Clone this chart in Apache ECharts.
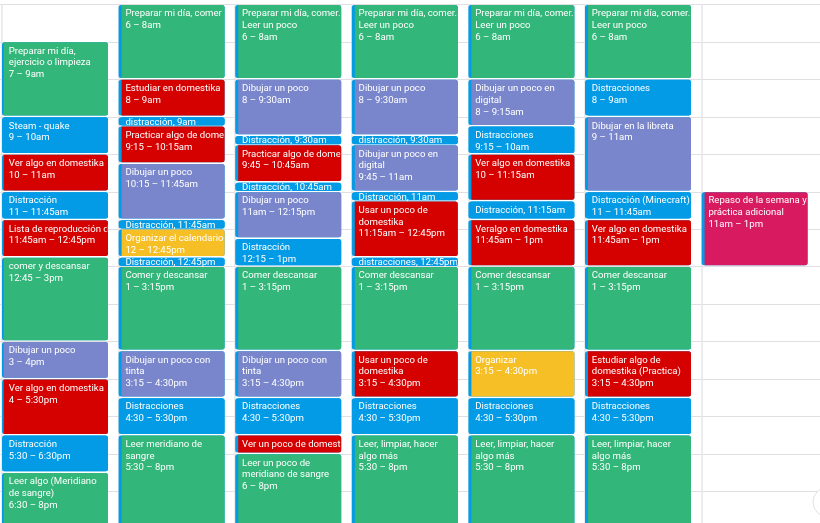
<!DOCTYPE html>
<html>
<head>
<meta charset="utf-8">
<style>html,body{margin:0;padding:0;background:#fff}#c{width:820px;height:523px}</style>
<script src="https://cdn.jsdelivr.net/npm/echarts@6/dist/echarts.min.js"></script>
</head>
<body>
<div id="c"></div>
<script>
const days = [
 0,0,0,0,0,0,0,0,0,0,
 1,1,1,1,1,1,1,1,1,1,1,1,
 2,2,2,2,2,2,2,2,2,2,2,2,
 3,3,3,3,3,3,3,3,3,3,3,
 4,4,4,4,4,4,4,4,4,4,
 5,5,5,5,5,5,5,5,5,
 6
];
const starts = [
 7,9,10,11,11.75,12.75,15,16,17.5,18.5,
 6,8,9,9.25,10.25,11.75,12,12.75,13,15.25,16.5,17.5,
 6,8,9.5,9.75,10.75,11,12.25,13,15.25,16.5,17.5,18,
 6,8,9.5,9.75,11,11.25,12.75,13,15.25,16.5,17.5,
 6,8,9.25,10,11.25,11.75,13,15.25,16.5,17.5,
 6,8,9,11,11.75,13,15.25,16.5,17.5,
 11
];
const ends = [
 9,10,11,11.75,12.75,15,16,17.5,18.5,20,
 8,9,9.25,10.25,11.75,12,12.75,13,15.25,16.5,17.5,20,
 8,9.5,9.75,10.75,11,12.25,13,15.25,16.5,17.5,18,20,
 8,9.5,9.75,11,11.25,12.75,13,15.25,16.5,17.5,20,
 8,9.25,10,11.25,11.75,13,15.25,16.5,17.5,20,
 8,9,11,11.75,13,15.25,16.5,17.5,20,
 13
];
const titles = [
 "Preparar mi día,\nejercicio o limpieza","Steam - quake","Ver algo en domestika","Distracción","Lista de reproducción de domestika","comer y descansar","Dibujar un poco","Ver algo en domestika","Distracción","Leer algo (Meridiano\nde sangre)",
 "Preparar mi día, comer","Estudiar en domestika","distracción, 9am","Practicar algo de domestika","Dibujar un poco","Distracción, 11:45am","Organizar el calendario","Distracción, 12:45pm","Comer y descansar","Dibujar un poco con\ntinta","Distracciones","Leer meridiano de\nsangre",
 "Preparar mi día, comer.\nLeer un poco","Dibujar un poco","Distracción, 9:30am","Practicar algo de domestika","Distracción, 10:45am","Dibujar un poco","Distracción","Comer descansar","Dibujar un poco con\ntinta","Distracciones","Ver un poco de domestika","Leer un poco de\nmeridiano de sangre",
 "Preparar mi día, comer.\nLeer un poco","Dibujar un poco","distracción, 9:30am","Dibujar un poco en\ndigital","Distracción, 11am","Usar un poco de\ndomestika","distracciones, 12:45pm","Comer descansar","Usar un poco de\ndomestika","Distracciones","Leer, limpiar, hacer\nalgo más",
 "Preparar mi día, comer.\nLeer un poco","Dibujar un poco en\ndigital","Distracciones","Ver algo en domestika","Distracción, 11:15am","Veralgo en domestika","Comer descansar","Organizar","Distracciones","Leer, limpiar, hacer\nalgo más",
 "Preparar mi día, comer.\nLeer un poco","Distracciones","Dibujar en la libreta","Distracción (Minecraft)","Ver algo en domestika","Comer descansar","Estudiar algo de\ndomestika (Practica)","Distracciones","Leer, limpiar, hacer\nalgo más",
 "Repaso de la semana y\npráctica adicional"
];
const times = [
 "7 – 9am","9 – 10am","10 – 11am","11 – 11:45am","11:45am – 12:45pm","12:45 – 3pm","3 – 4pm","4 – 5:30pm","5:30 – 6:30pm","6:30 – 8pm",
 "6 – 8am","8 – 9am","","9:15 – 10:15am","10:15 – 11:45am","","12 – 12:45pm","","1 – 3:15pm","3:15 – 4:30pm","4:30 – 5:30pm","5:30 – 8pm",
 "6 – 8am","8 – 9:30am","","9:45 – 10:45am","","11am – 12:15pm","12:15 – 1pm","1 – 3:15pm","3:15 – 4:30pm","4:30 – 5:30pm","","6 – 8pm",
 "6 – 8am","8 – 9:30am","","9:45 – 11am","","11:15am – 12:45pm","","1 – 3:15pm","3:15 – 4:30pm","4:30 – 5:30pm","5:30 – 8pm",
 "6 – 8am","8 – 9:15am","9:15 – 10am","10 – 11:15am","","11:45am – 1pm","1 – 3:15pm","3:15 – 4:30pm","4:30 – 5:30pm","5:30 – 8pm",
 "6 – 8am","8 – 9am","9 – 11am","11 – 11:45am","11:45am – 1pm","1 – 3:15pm","3:15 – 4:30pm","4:30 – 5:30pm","5:30 – 8pm",
 "11am – 1pm"
];
const kinds = [
 "g","b","r","b","r","g","p","r","b","g",
 "g","r","b","r","p","b","y","b","g","p","b","g",
 "g","p","b","r","b","p","b","g","p","b","r","g",
 "g","p","b","p","b","r","b","g","r","b","g",
 "g","p","b","r","b","r","g","y","b","g",
 "g","b","p","b","r","g","r","b","g",
 "m"
];
const palette = {g:"#33B679",b:"#039BE5",r:"#D50000",p:"#7986CB",y:"#F6BF26",m:"#D81B60"};
const STRIPE = "#039BE5";
const eventRows = days.map((d,i)=>[d,starts[i],ends[i],i]);

const hidden = {axisLine:{show:false},axisTick:{show:false},axisLabel:{show:false}};
const chart = echarts.init(document.getElementById('c'),null,{renderer:'canvas'});
chart.setOption({
  animation:false,
  backgroundColor:'#fff',
  grid:[
    {left:2,top:4.5,width:816.2,height:524.3,outerBoundsMode:'none'},
    {left:0,top:4.5,width:820,height:524.3,outerBoundsMode:'none'}
  ],
  xAxis:[
    {type:'value',gridIndex:0,min:0,max:7,interval:1,...hidden,
      splitLine:{show:true,showMaxLine:false,lineStyle:{color:'#e6e6e9',width:1.5}}},
    {type:'value',gridIndex:1,min:0,max:7,interval:1,...hidden,splitLine:{show:false}}
  ],
  yAxis:[
    {type:'value',gridIndex:0,inverse:true,min:6,max:20,interval:1,...hidden,splitLine:{show:false}},
    {type:'value',gridIndex:1,inverse:true,min:6,max:20,interval:1,...hidden,
      splitLine:{show:true,showMaxLine:false,lineStyle:{color:'#e0e0e4',width:1}}}
  ],
  graphic:[{type:'circle',z:100,shape:{cx:828,cy:502,r:15},style:{fill:'#fff',stroke:'#e2e2e2',lineWidth:1}}],
  series:[{
    type:'custom',
    xAxisIndex:0,
    yAxisIndex:0,
    clip:false,
    data:eventRows,
    encode:{x:0,y:[1,2]},
    renderItem(params,api){
      const i=api.value(3);
      const p0=api.coord([api.value(0),api.value(1)]);
      const p1=api.coord([api.value(0),api.value(2)]);
      const x=p0[0], y=p0[1]+0.4, w=106, h=Math.max(p1[1]-p0[1]-1.7,8.2);
      const sw = api.value(0)===0 ? 1.7 : 3;
      const short = !times[i];
      const label = short ? titles[i] : titles[i]+"\n"+times[i];
      const compact = h<20;
      return {type:'group',children:[
        {type:'rect',shape:{x,y,width:w,height:h,r:2.5},style:{fill:STRIPE}},
        {type:'rect',shape:{x:x+sw,y,width:w-sw,height:h,r:[0,2.5,2.5,0]},style:{fill:palette[kinds[i]]}},
        {type:'text',z2:10,x:x+6.8,y:compact?y+h/2+0.9:y+3,
          clipPath:{type:'rect',shape:{x:-3.8,y:-30,width:w-3.8,height:90+h}},
          style:{text:label,fill:'#fff',fontFamily:'Roboto',fontSize:9.6,lineHeight:11.8,
            verticalAlign:compact?'middle':'top',align:'left'}}
      ]};
    }
  }]
});
</script>
</body>
</html>
